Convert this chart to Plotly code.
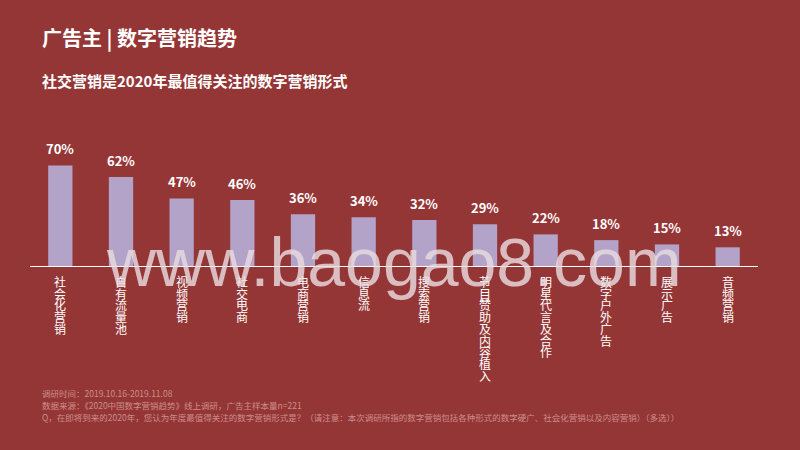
import plotly.graph_objects as go

categories = ["社会化营销", "自有流量池", "视频营销", "社交电商", "电商营销", "信息流",
              "搜索营销", "节目赞助及内容植入", "明星代言及合作", "数字户外广告", "展示广告", "音频营销"]
values = [70, 62, 47, 46, 36, 34, 32, 29, 22, 18, 15, 13]
value_labels = [f"{v}%" for v in values]

title = "广告主 | 数字营销趋势"
subtitle = "社交营销是2020年最值得关注的数字营销形式"
footer = [
    "调研时间：2019.10.16-2019.11.08",
    "数据来源：《2020中国数字营销趋势》线上调研，广告主样本量n=221",
    "Q，在即将到来的2020年，您认为年度最值得关注的数字营销形式是？（请注意：本次调研所指的数字营销包括各种形式的数字硬广、社会化营销以及内容营销）（多选））",
]
watermark = "www.baogao8.com"

BG = "#953636"
BAR = "#B3A3C8"
CJK = "Noto Sans CJK SC"

# plot area in pixels: x 30..758, y 151..266
PL, PR, PT, PB = 30, 758, 151, 266
PW, PH = PR - PL, PB - PT


def px(x):
    return (x - PL) / PW


def py(y):
    return (PB - y) / PH


fig = go.Figure()
fig.add_trace(go.Bar(x=categories, y=values, width=0.4, marker=dict(color=BAR, line=dict(width=0)),
                     hoverinfo="skip"))

ann = []
# value labels
for c, v, t in zip(categories, values, value_labels):
    ann.append(dict(x=c, y=v, xref="x", yref="y", text=f"<b>{t}</b>", showarrow=False,
                    yanchor="bottom", yshift=5,
                    font=dict(family=CJK, size=13, color="white")))
# vertical category labels (stacked upright characters; line pitch from 9px base, glyphs 12px)
for c in categories:
    stacked = "<br>".join(f"<span style='font-size:12px'>{ch}</span>" for ch in c)
    ann.append(dict(x=c, y=0, xref="x", yref="y", text=stacked, showarrow=False,
                    yanchor="top", yshift=-6, borderpad=0,
                    font=dict(family=CJK, size=9, color="white")))
# title & subtitle
ann.append(dict(x=px(40), y=py(38), xref="paper", yref="paper",
                xanchor="left", yanchor="middle", text=f"<b>{title}</b>", showarrow=False,
                font=dict(family=CJK, size=20, color="white")))
ann.append(dict(x=px(40), y=py(80), xref="paper", yref="paper",
                xanchor="left", yanchor="middle", text=f"<b>{subtitle}</b>", showarrow=False,
                font=dict(family=CJK, size=15, color="white")))
# footer
for i, line in enumerate(footer):
    ann.append(dict(x=px(40), y=py(393 + i * 12), xref="paper", yref="paper",
                    xanchor="left", yanchor="middle", text=line, showarrow=False,
                    font=dict(family=CJK, size=8.5, color="rgba(250,215,215,0.55)")))
# watermark
ann.append(dict(x=px(394), y=py(262), xref="paper", yref="paper",
                xanchor="center", yanchor="middle", text=watermark, showarrow=False,
                font=dict(family="Liberation Sans", size=68, color="rgba(232,220,224,0.82)")))

fig.update_layout(
    width=800, height=450,
    paper_bgcolor=BG, plot_bgcolor=BG,
    margin=dict(l=PL, r=800 - PR, t=PT, b=450 - PB),
    showlegend=False,
    xaxis=dict(showgrid=False, showline=True, linecolor="white", linewidth=1,
               showticklabels=False, ticks="", zeroline=False, fixedrange=True),
    yaxis=dict(range=[0, 80], showgrid=False, showline=False, showticklabels=False,
               zeroline=False, fixedrange=True),
    annotations=ann,
)

fig.write_html("out.html", config={"displayModeBar": False},
               post_script="document.body.style.margin='0';document.body.style.background='" + BG + "';")
